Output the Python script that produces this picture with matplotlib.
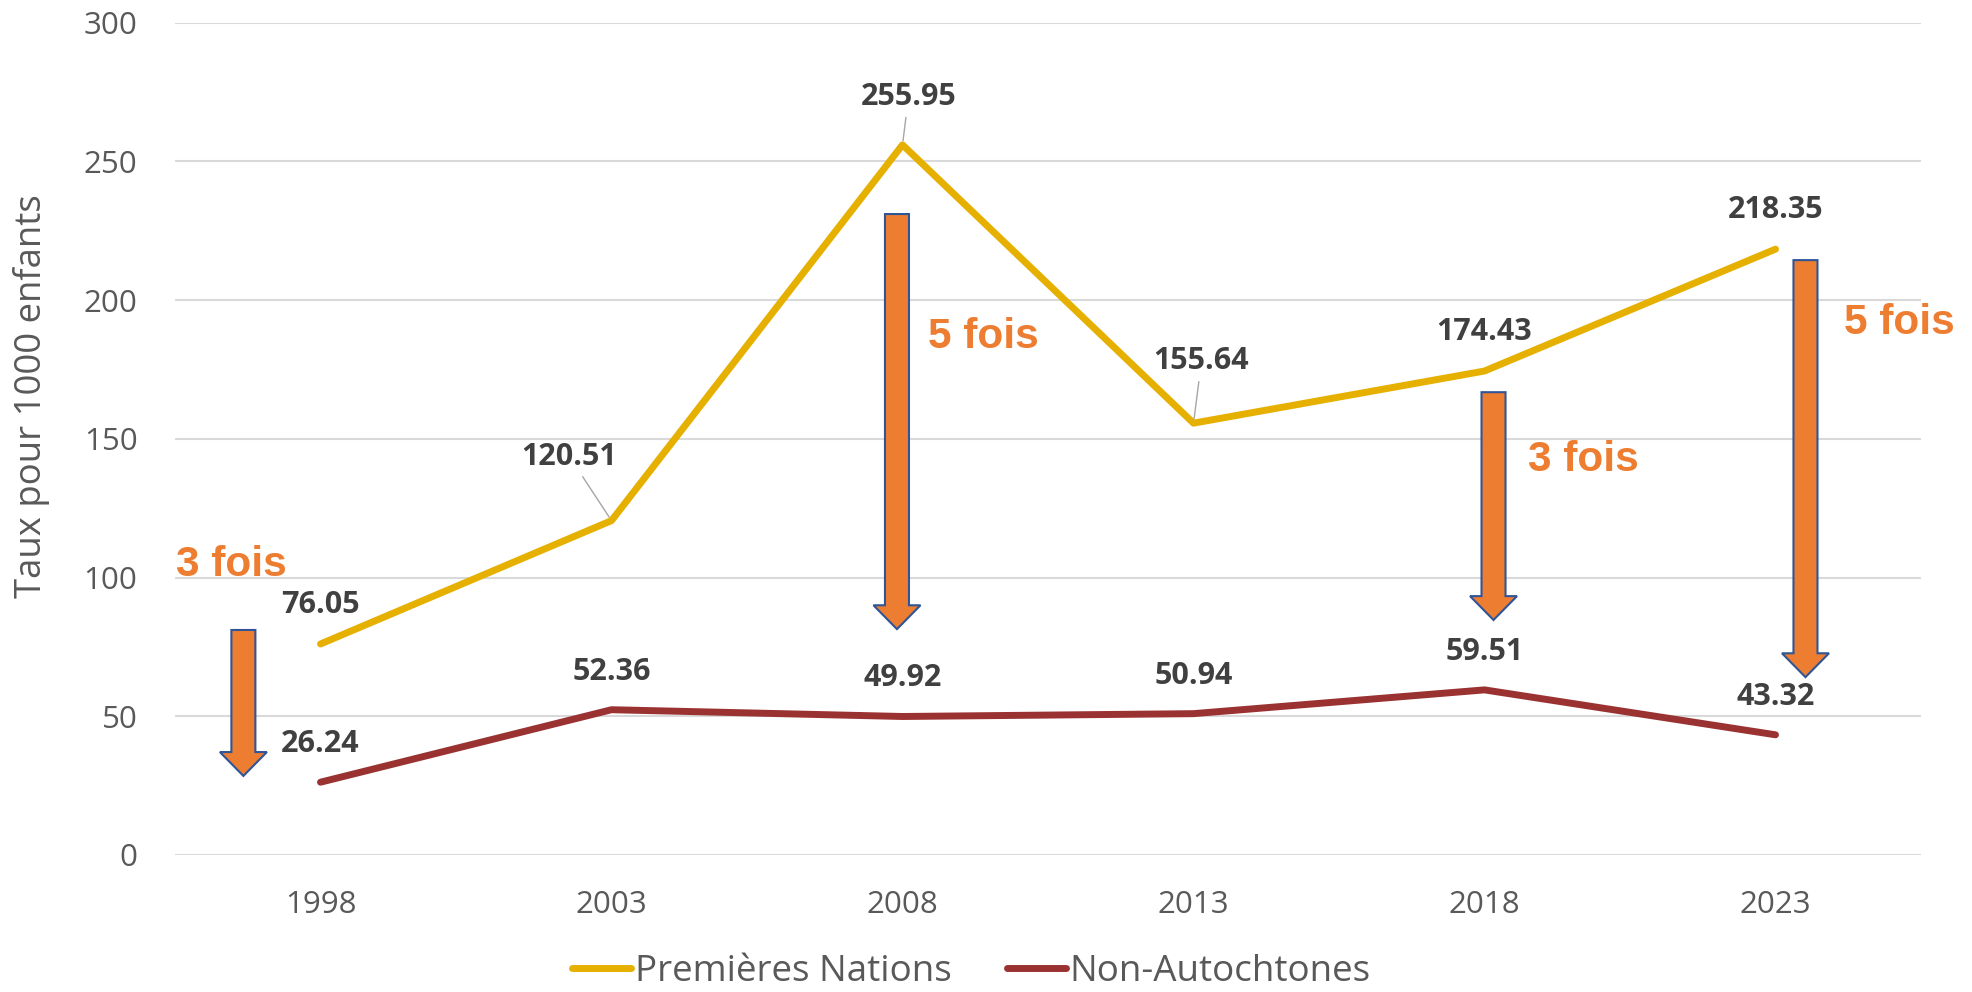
import matplotlib
matplotlib.use("Agg")
import matplotlib.pyplot as plt
from matplotlib.patches import FancyArrow

# data
years = ["1998", "2003", "2008", "2013", "2018", "2023"]
premieres_nations = [76.05, 120.51, 255.95, 155.64, 174.43, 218.35]
non_autochtones = [26.24, 52.36, 49.92, 50.94, 59.51, 43.32]
ratio_labels = ["3 fois", "5 fois", "3 fois", "5 fois"]

# layout of the annotations (in axis units)
arrow_x = [-0.265, 1.981, 4.031, 5.103]
arrow_top = [81.1, 231.0, 166.8, 214.4]
arrow_tip = [28.5, 81.4, 84.7, 64.1]
ratio_pos = [(-0.498, 104.5), (2.089, 186.7), (4.148, 142.3), (5.234, 191.7)]

YELLOW = "#E6B000"
RED = "#9B3232"
ORANGE = "#ED7D31"
GREY = "#595959"
DARK = "#404040"

fig = plt.figure(figsize=(19.72, 9.92), dpi=100)
ax = fig.add_axes([175 / 1972, 1 - 855 / 992, (1921 - 175) / 1972, (855 - 22.6) / 992])

x = list(range(len(years)))
ax.plot(x, premieres_nations, color=YELLOW, lw=5, solid_capstyle="round",
        solid_joinstyle="round", label="Premières Nations", zorder=3)
ax.plot(x, non_autochtones, color=RED, lw=5, solid_capstyle="round",
        solid_joinstyle="round", label="Non-Autochtones", zorder=3)

ax.set_xlim(-0.5, 5.5)
ax.set_ylim(0, 300)
ax.set_yticks(range(0, 301, 50))
ax.set_xticks(x)
ax.set_xticklabels(years)
ax.grid(axis="y", color="#d9d9d9", lw=1.5)
ax.set_axisbelow(True)
for s in ax.spines.values():
    s.set_visible(False)
ax.tick_params(length=0, labelsize=22.5, labelcolor=GREY)
ax.tick_params(axis="y", pad=27)
ax.tick_params(axis="x", pad=25)
for lab in ax.get_xticklabels() + ax.get_yticklabels():
    lab.set_family("Open Sans")
ax.set_ylabel("Taux pour 1000 enfants", fontsize=26.3, color=GREY,
              family="Open Sans")
ax.yaxis.set_label_coords(-0.0716, 0.551)

# data labels
lbl = dict(fontsize=22, fontweight="bold", color=DARK, family="Open Sans",
           ha="center", va="center", textcoords="offset pixels", zorder=5)
leader = dict(arrowstyle="-", color="#a6a6a6", lw=1, shrinkA=2, shrinkB=3)
offsets_pn = [(0, 39), (-42, 64), (6, 48), (8, 62), (0, 39), (0, 39)]
for i, v in enumerate(premieres_nations):
    dx, dy = offsets_pn[i]
    ap = leader if (dx, dy) != (0, 39) else None
    ax.annotate(f"{v:.2f}", (i, v), xytext=(dx, dy), arrowprops=ap, **lbl)
for i, v in enumerate(non_autochtones):
    ax.annotate(f"{v:.2f}", (i, v), xytext=(0, 38), **lbl)

# orange arrows + ratio text
for ax_x, top, tip in zip(arrow_x, arrow_top, arrow_tip):
    arr = FancyArrow(ax_x, top, 0, tip - top, width=0.0825, head_width=0.1615,
                     head_length=8.6, length_includes_head=True,
                     facecolor=ORANGE, edgecolor="#2F5597", lw=1.5, zorder=4)
    ax.add_patch(arr)
for (tx, ty), t in zip(ratio_pos, ratio_labels):
    ax.text(tx, ty, t, fontsize=30.5, fontweight="bold", color=ORANGE,
            family="Liberation Sans", ha="left", va="center", zorder=6)

leg = fig.legend(loc="center", bbox_to_anchor=(0.4927, 0.02), ncol=2,
                 frameon=False, handlelength=1.6, handletextpad=0.1,
                 columnspacing=1.5, borderpad=0.2,
                 prop={"family": "Open Sans", "size": 26.5})
for t in leg.get_texts():
    t.set_color(GREY)

fig.savefig("out.png", dpi=100)
